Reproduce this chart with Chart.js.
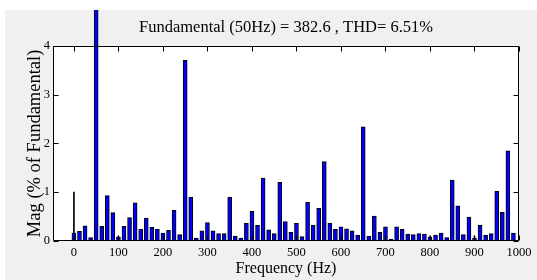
<!DOCTYPE html>
<html lang="en">
<head>
<meta charset="UTF-8">
<title>FFT Analysis</title>
<script src="https://cdn.jsdelivr.net/npm/chart.js"></script>
<style>
  body { margin: 0; background: #fff; }
  #wrap { position: absolute; left: 5px; top: 10px; width: 532px; height: 270px; background: #f0f0f0; }
</style>
</head>
<body>
<div id="wrap"><canvas id="fftChart" width="532" height="270"></canvas></div>
<script>
// frequency bins (Hz)
const freqs = [
  0, 12.5, 25, 37.5, 50, 62.5, 75, 87.5,
  100, 112.5, 125, 137.5, 150, 162.5, 175, 187.5,
  200, 212.5, 225, 237.5, 250, 262.5, 275, 287.5,
  300, 312.5, 325, 337.5, 350, 362.5, 375, 387.5,
  400, 412.5, 425, 437.5, 450, 462.5, 475, 487.5,
  500, 512.5, 525, 537.5, 550, 562.5, 575, 587.5,
  600, 612.5, 625, 637.5, 650, 662.5, 675, 687.5,
  700, 712.5, 725, 737.5, 750, 762.5, 775, 787.5,
  800, 812.5, 825, 837.5, 850, 862.5, 875, 887.5,
  900, 912.5, 925, 937.5, 950, 962.5, 975, 987.5
];
// magnitude, % of fundamental
const mags = [
  0.16, 0.20, 0.31, 0.07, 100, 0.30, 0.93, 0.58,
  0.08, 0.30, 0.48, 0.78, 0.24, 0.47, 0.28, 0.24,
  0.16, 0.22, 0.63, 0.13, 3.70, 0.90, 0.06, 0.21,
  0.38, 0.21, 0.15, 0.15, 0.90, 0.10, 0.06, 0.36,
  0.61, 0.32, 1.29, 0.23, 0.15, 1.20, 0.40, 0.18,
  0.36, 0.09, 0.79, 0.32, 0.67, 1.63, 0.36, 0.24,
  0.29, 0.25, 0.21, 0.12, 2.34, 0.10, 0.51, 0.18,
  0.29, 0.04, 0.29, 0.24, 0.14, 0.13, 0.15, 0.14,
  0.08, 0.12, 0.16, 0.07, 1.25, 0.72, 0.13, 0.49,
  0.055, 0.32, 0.12, 0.15, 1.02, 0.59, 1.85, 0.16
];
// thin black stems
const stemFreqs = [0, 100, 800, 900];
const stemMags = [1.0, 0.10, 0.10, 0.10];

const xTicks = [0, 100, 200, 300, 400, 500, 600, 700, 800, 900, 1000];
const yTicks = [0, 1, 2, 3, 4];

const serif = 'Liberation Serif';

const frame = {
  id: 'frame',
  beforeDraw(chart) {
    const { ctx, chartArea: a } = chart;
    ctx.save();
    ctx.fillStyle = '#fff';
    ctx.fillRect(a.left, a.top, a.right - a.left, a.bottom - a.top);
    ctx.restore();
  },
  afterDatasetsDraw(chart) {
    const { ctx, chartArea: a, scales: { x, y } } = chart;
    const L = Math.round(a.left) + 0.5, R = Math.round(a.right) - 0.5;
    const T = Math.round(a.top) + 0.5, B = Math.round(a.bottom) - 0.5;
    ctx.save();
    ctx.strokeStyle = '#000';
    ctx.lineWidth = 1;
    ctx.beginPath();
    ctx.rect(L, T, R - L, B - T);
    xTicks.forEach(v => {
      const px = Math.round(x.getPixelForValue(v)) + 0.5;
      ctx.moveTo(px, T); ctx.lineTo(px, T + 5);
      ctx.moveTo(px, B); ctx.lineTo(px, B - 5);
    });
    yTicks.forEach(v => {
      const py = Math.round(y.getPixelForValue(v)) + 0.5;
      ctx.moveTo(L, py); ctx.lineTo(L + 5, py);
      ctx.moveTo(R, py); ctx.lineTo(R - 5, py);
    });
    ctx.stroke();
    ctx.restore();
  }
};

new Chart(document.getElementById('fftChart'), {
  type: 'bar',
  data: {
    datasets: [{
      data: freqs.map((f, i) => ({ x: f, y: mags[i] })),
      backgroundColor: '#0000ff',
      borderColor: '#000',
      borderWidth: 1,
      barThickness: 4,
      grouped: false,
      clip: false,
      order: 1
    }, {
      data: stemFreqs.map((f, i) => ({ x: f, y: stemMags[i] })),
      backgroundColor: '#000',
      borderWidth: 0,
      barThickness: 1,
      grouped: false,
      order: 2
    }]
  },
  options: {
    responsive: false,
    devicePixelRatio: 1,
    animation: false,
    layout: { padding: { left: 0, right: 18, top: 0, bottom: 0 } },
    plugins: {
      legend: { display: false },
      tooltip: { enabled: false },
      title: {
        display: true,
        text: 'Fundamental (50Hz) = 382.6 , THD= 6.51%',
        color: '#000',
        fullSize: false,
        font: { family: serif, size: 16.5, weight: 'normal' },
        padding: { top: 8, bottom: 8 }
      }
    },
    scales: {
      x: {
        type: 'linear',
        offset: false,
        min: -47,
        max: 1000,
        afterBuildTicks: s => { s.ticks = xTicks.map(v => ({ value: v })); },
        afterFit: s => { s.height = 39; },
        grid: { display: false, drawTicks: false },
        border: { display: false },
        ticks: {
          color: '#000', padding: 4, maxRotation: 0, autoSkip: false,
          font: { family: serif, size: 12.5 },
          callback: v => String(v)
        },
        title: {
          display: true,
          text: 'Frequency (Hz)',
          color: '#000',
          font: { family: serif, size: 16 },
          padding: { top: 0, bottom: 2 }
        }
      },
      y: {
        min: 0,
        max: 4,
        afterBuildTicks: s => { s.ticks = yTicks.map(v => ({ value: v })); },
        afterFit: s => { s.width = 48; },
        grid: { display: false, drawTicks: false },
        border: { display: false },
        ticks: { color: '#000', padding: 3, font: { family: serif, size: 12.5 }, callback: v => String(v) },
        title: {
          display: true,
          text: 'Mag (% of Fundamental)',
          color: '#000',
          font: { family: serif, size: 18.5 },
          padding: { top: 19, bottom: 0 }
        }
      }
    }
  },
  plugins: [frame]
});
</script>
</body>
</html>
